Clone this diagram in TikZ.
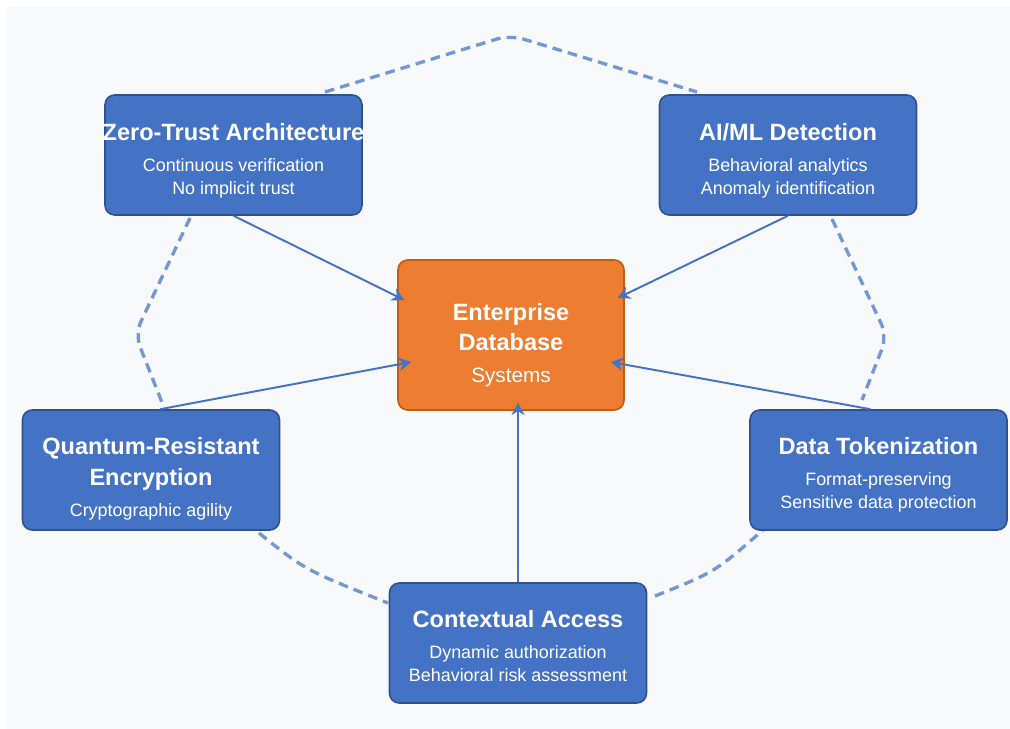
\documentclass[tikz,border=0pt]{standalone}
\usepackage{fontspec}
\setmainfont{Liberation Sans}
\usetikzlibrary{calc}
\usetikzlibrary{positioning}
\usetikzlibrary{arrows.meta}

\definecolor{boxblue}{HTML}{4472C4}
\definecolor{boxedge}{HTML}{2F528F}
\definecolor{dborange}{HTML}{ED7D31}
\definecolor{dbedge}{HTML}{C55A11}
\definecolor{paper}{HTML}{F7F9FB}

\newcommand{\ttl}[1]{{\fontsize{13.4}{17.6}\selectfont\bfseries #1}}
\newcommand{\sbt}[1]{{\fontsize{10.2}{13}\selectfont #1}}

\begin{document}
\begin{tikzpicture}[
  x=0.02cm,y=-0.02cm,
  line join=round,
  box/.style={draw=boxedge,line width=0.9pt,fill=boxblue,rounded corners=5.5pt,
    minimum width=5.14cm,minimum height=2.4cm,inner sep=0pt},
  hub/.style={draw=dbedge,line width=0.9pt,fill=dborange,rounded corners=5.5pt,
    minimum width=4.52cm,minimum height=3cm,inner sep=0pt},
  lbl/.style={text=white,align=center,inner sep=0pt,font=\fontsize{10.2}{13}\selectfont},
  feed/.style={draw=boxblue,line width=1.1pt,-{Stealth[length=7pt,width=7.5pt]}},
  ring/.style={draw=boxblue,draw opacity=0.72,line width=1.9pt,
    dash pattern=on 5.5pt off 3.5pt,rounded corners=8pt}
]
  % Page
  \useasboundingbox (0,0) rectangle (1010,729);
  \fill[paper] (7,7) rectangle (1010,729);

  % Dashed ring between the boxes
  \coordinate (t1) at (325,92);
  \coordinate (t2) at (510,35);
  \coordinate (t3) at (697,92);
  \coordinate (l1) at (190,218);
  \coordinate (l2) at (135,334);
  \coordinate (l3) at (163,405);
  \coordinate (r1) at (832,219);
  \coordinate (r2) at (887,336);
  \coordinate (r3) at (862,400);
  \coordinate (b1) at (259,533);
  \coordinate (b2) at (388,603);
  \coordinate (b3) at (655,596);
  \coordinate (b4) at (763,530);

  \draw[ring] (t1) -- (t2) -- (t3);
  \draw[ring] (l1) -- (l2) -- (l3);
  \draw[ring] (r1) -- (r2) -- (r3);
  \draw[ring] (b1) .. controls (305,570) .. (b2);
  \draw[ring] (b3) .. controls (715,572) .. (b4);

  % Boxes
  \node[box] (ZT) at (233.5,155) {};
  \node[box] (AI) at (788,155) {};
  \node[hub] (DB) at (511,335) {};
  \node[box] (QR) at (151,470) {};
  \node[box] (DT) at (878.5,470) {};
  \node[box] (CA) at (518,643) {};

  % Labels
  \node[lbl] (ZT-t) at ($(ZT)+(0,6)$) {\ttl{Zero-Trust Architecture}\\[4.6pt]
    Continuous verification\\No implicit trust};
  \node[lbl] (AI-t) at ($(AI)+(0,6)$) {\ttl{AI/ML Detection}\\[4.6pt]
    Behavioral analytics\\Anomaly identification};
  \node[lbl] (DB-t) at ($(DB)+(0,10)$) {\ttl{Enterprise}\\[4pt]\ttl{Database}\\[5pt]
    {\fontsize{11.8}{14}\selectfont Systems}};
  \node[lbl] (QR-t) at ($(QR)+(0,9)$) {\ttl{Quantum-Resistant}\\[4.6pt]\ttl{Encryption}\\[5pt]
    Cryptographic agility};
  \node[lbl] (DT-t) at ($(DT)+(0,5)$) {\ttl{Data Tokenization}\\[4.6pt]
    Format-preserving\\Sensitive data protection};
  \node[lbl] (CA-t) at ($(CA)+(0,3)$) {\ttl{Contextual Access}\\[4.6pt]
    Dynamic authorization\\Behavioral risk assessment};

  % Arrows into the hub
  \draw[feed] (ZT.south) -- ($(DB.west)+(7,-35)$);
  \draw[feed] (AI.south) -- ($(DB.east)+(-7,-37)$);
  \draw[feed] ($(QR.north)+(9,0)$) -- ($(DB.west)+(14,27)$);
  \draw[feed] ($(DT.north)+(-8,0)$) -- ($(DB.east)+(-14,27)$);
  \draw[feed] (CA.north) -- ($(CA.north |- DB.south)+(0,-8)$);
\end{tikzpicture}
\end{document}
